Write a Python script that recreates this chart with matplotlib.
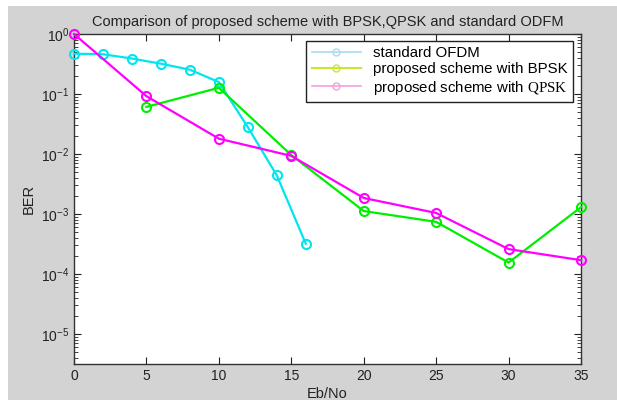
import matplotlib.pyplot as plt
from matplotlib.lines import Line2D
from matplotlib.patches import Rectangle
from matplotlib.ticker import LogLocator, FixedLocator

plt.rcParams['font.family'] = 'Liberation Sans'
plt.rcParams['mathtext.fontset'] = 'custom'
plt.rcParams['mathtext.rm'] = 'Liberation Serif'

# standard OFDM
ofdm_x = [0, 2, 4, 6, 8, 10, 12, 14, 16]
ofdm_ber = [0.47, 0.46, 0.39, 0.32, 0.254, 0.158, 0.028, 0.0044, 0.00032]

# proposed scheme with BPSK
bpsk_x = [5, 10, 15, 20, 25, 30, 35]
bpsk_ber = [0.061, 0.127, 0.0096, 0.00112, 0.00074, 0.000155, 0.0013]

# proposed scheme with QPSK
qpsk_x = [0, 5, 10, 15, 20, 25, 30, 35]
qpsk_ber = [1.0, 0.092, 0.018, 0.0093, 0.00185, 0.00104, 0.00026, 0.00017]

gray = '#d3d3d3'
fig = plt.figure(figsize=(6.17, 4.0), dpi=100, facecolor='white')
# gray matlab-style figure area with a thin white margin top/left
fig.patches.append(Rectangle((8 / 617, 0), 1, 1 - 6 / 400, transform=fig.transFigure,
                             facecolor=gray, edgecolor='none', zorder=-10))

ax = fig.add_axes([74 / 617, 36 / 400, (581 - 74) / 617, (364 - 34) / 400])
ax.set_facecolor('white')

ax.semilogy(ofdm_x, ofdm_ber, '-o', color='#00e5ee', lw=1.6, ms=6.5, mfc='none', mew=1.5, clip_on=False, zorder=3)
ax.semilogy(bpsk_x, bpsk_ber, '-o', color='#00ee00', lw=1.6, ms=6.5, mfc='none', mew=1.5, clip_on=False, zorder=3)
ax.semilogy(qpsk_x, qpsk_ber, '-o', color='#ff00ff', lw=1.6, ms=6.5, mfc='none', mew=1.5, clip_on=False, zorder=4)

ax.set_xlim(0, 35)
ax.set_ylim(10 ** -5.5, 1)
ax.xaxis.set_major_locator(FixedLocator([0, 5, 10, 15, 20, 25, 30, 35]))
ax.yaxis.set_major_locator(LogLocator(base=10, numticks=10))
ax.yaxis.set_minor_locator(LogLocator(base=10, subs=range(2, 10), numticks=10))
ax.tick_params(which='both', direction='in', top=True, right=True, labelsize=10, colors='#222222')
ax.tick_params(which='major', length=5)
ax.tick_params(which='minor', length=3)
for s in ax.spines.values():
    s.set_color('#333333')
    s.set_linewidth(1.0)

ax.set_title('Comparison of proposed scheme with BPSK,QPSK and standard ODFM', fontsize=10.5, pad=6, color='#222222')
ax.set_xlabel('Eb/No', fontsize=10.5, labelpad=3, color='#222222')
ax.set_ylabel('BER', fontsize=10.5, labelpad=4, color='#222222')

handles = [
    Line2D([], [], color='#a8dcf0', marker='o', mfc='none', lw=1.2, ms=5),
    Line2D([], [], color='#c8e830', marker='o', mfc='none', lw=1.5, ms=5),
    Line2D([], [], color='#f5a0d8', marker='o', mfc='none', lw=1.2, ms=5),
]
labels = ['standard OFDM', 'proposed scheme with BPSK', r'proposed scheme with $\mathrm{QPSK}$']
leg = ax.legend(handles, labels, loc='upper right', bbox_to_anchor=(0.984, 0.979), borderaxespad=0,
                fontsize=10.8, frameon=True, fancybox=False, edgecolor='#222222', framealpha=1,
                handlelength=3.3, handletextpad=0.8, borderpad=0.35, labelspacing=0.15)
leg.get_frame().set_linewidth(1.0)

fig.savefig('out.png', dpi=100, facecolor=fig.get_facecolor())
